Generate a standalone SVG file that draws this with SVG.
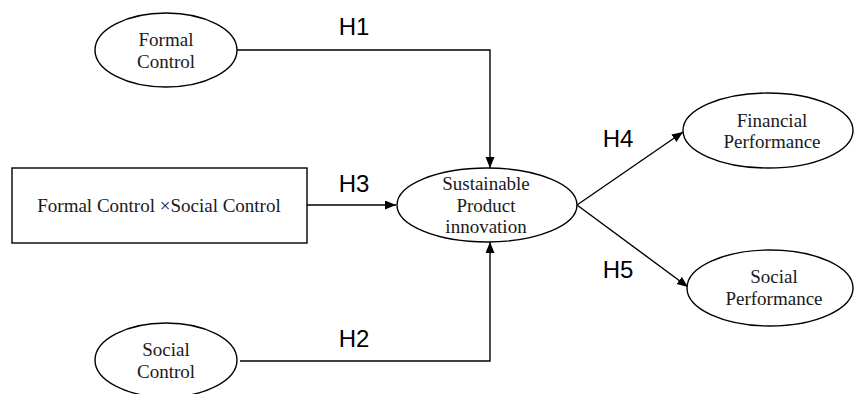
<svg xmlns="http://www.w3.org/2000/svg" width="855" height="394" viewBox="0 0 855 394">
<style>
.node{fill:#fff;stroke:#000;stroke-width:1.4}
.lbl{font-family:"Liberation Serif","Times New Roman",serif;font-size:19px;fill:#1a1a1a;text-anchor:middle}
.h{font-family:"Liberation Sans",Arial,sans-serif;font-size:24px;fill:#000;text-anchor:middle}
.edge{fill:none;stroke:#000;stroke-width:1.4}
</style>
<defs>
<marker id="arr" markerUnits="userSpaceOnUse" markerWidth="12" markerHeight="10" refX="11" refY="4.5" orient="auto">
<path d="M0,0 L11,4.5 L0,9 z" fill="#000"/>
</marker>
</defs>
<rect width="855" height="394" fill="#fff"/>
<g id="connectors">
<path class="edge" d="M237,50 H490 V168" marker-end="url(#arr)"/>
<path class="edge" d="M240,361 H490 V242" marker-end="url(#arr)"/>
<path class="edge" d="M307,205 H396" marker-end="url(#arr)"/>
<path class="edge" d="M577,205 L683,132" marker-end="url(#arr)"/>
<path class="edge" d="M577,205 L688,287" marker-end="url(#arr)"/>
<text class="h" x="354" y="35">H1</text>
<text class="h" x="354" y="192">H3</text>
<text class="h" x="354" y="347">H2</text>
<text class="h" x="618" y="147">H4</text>
<text class="h" x="618" y="278">H5</text>
</g>
<g id="formal-control">
<ellipse class="node" cx="166" cy="50" rx="71" ry="37"/>
<text class="lbl" x="166" y="46">Formal</text>
<text class="lbl" x="166" y="68">Control</text>
</g>
<g id="interaction">
<rect class="node" x="12" y="168" width="295" height="75"/>
<text class="lbl" x="159" y="212">Formal Control ×Social Control</text>
</g>
<g id="social-control">
<ellipse class="node" cx="166" cy="360" rx="71" ry="37"/>
<text class="lbl" x="166" y="356">Social</text>
<text class="lbl" x="166" y="378">Control</text>
</g>
<g id="spi">
<ellipse class="node" cx="487" cy="205" rx="90" ry="37"/>
<text class="lbl" x="486" y="190">Sustainable</text>
<text class="lbl" x="486" y="212">Product</text>
<text class="lbl" x="486" y="233">innovation</text>
</g>
<g id="financial">
<ellipse class="node" cx="768" cy="130.5" rx="85" ry="37.5"/>
<text class="lbl" x="772" y="127">Financial</text>
<text class="lbl" x="772" y="148">Performance</text>
</g>
<g id="social-performance">
<ellipse class="node" cx="770" cy="288" rx="83" ry="38"/>
<text class="lbl" x="774" y="283">Social</text>
<text class="lbl" x="774" y="305">Performance</text>
</g>
</svg>
